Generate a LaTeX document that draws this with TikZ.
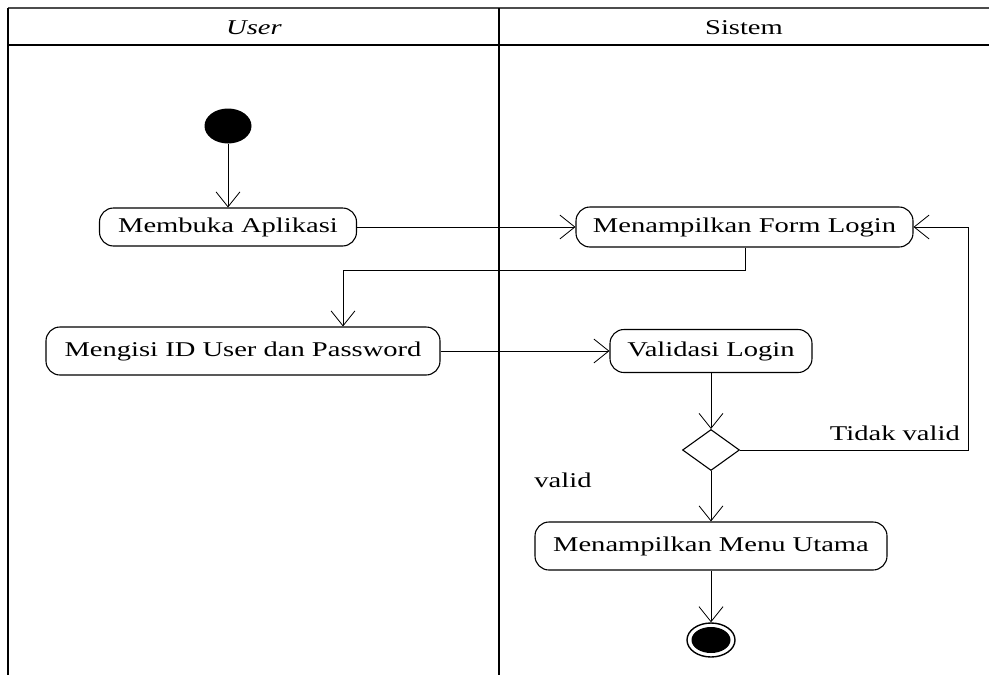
\documentclass[tikz,border=0pt]{standalone}
\usepackage{fontspec}
\setmainfont{Liberation Serif}[FakeStretch=1.36]
\usetikzlibrary{arrows.meta,shapes.geometric}
\begin{document}
\begin{tikzpicture}[x=1pt,y=-1pt,
  act/.style={draw,line width=1.1pt,rounded corners=14pt,inner sep=0pt,font=\fontsize{21}{23}\selectfont},
  flow/.style={line width=0.8pt,-{Straight Barb[length=15pt,width=24pt,line width=0.8pt]}},
  plain/.style={line width=0.8pt},
  lbl/.style={font=\fontsize{21}{23}\selectfont,inner sep=0pt}]
\useasboundingbox (0,0) rectangle (989,675);
% swimlane frame
\draw[line width=1.6pt,black!70] (8,8) -- (989,8);
\draw[line width=1.4pt] (8,45) -- (989,45);
\draw[line width=1.8pt] (8,8) -- (8,675);
\draw[line width=2.8pt] (499,8) -- (499,675);
\node[lbl] (hu) at (254,28) {\itshape User};
\node[lbl] (hs) at (744,28) {Sistem};
% nodes
\node[ellipse,fill=black,minimum width=47pt,minimum height=35pt,inner sep=0pt] (start) at (228,126) {};
\node[act,minimum width=257pt,minimum height=38pt] (buka) at (228,227) {Membuka Aplikasi};
\node[act,minimum width=337pt,minimum height=40pt] (form) at (744.5,227) {Menampilkan Form Login};
\node[act,minimum width=394pt,minimum height=48pt] (isi) at (243,351) {Mengisi ID User dan Password};
\node[act,minimum width=202pt,minimum height=43pt] (val) at (711,351) {Validasi Login};
\node[diamond,draw,line width=1.1pt,minimum width=57pt,minimum height=41pt,inner sep=0pt,aspect=1.4] (dec) at (711,450) {};
\node[act,minimum width=352pt,minimum height=48pt] (menu) at (711,546) {Menampilkan Menu Utama};
\node[ellipse,draw,line width=1.4pt,minimum width=48pt,minimum height=34pt,inner sep=0pt] (end) at (711,640) {};
\node[ellipse,fill=black,minimum width=39pt,minimum height=26pt,inner sep=0pt] (endin) at (711,640) {};
% labels
\node[lbl,anchor=base east] (tv) at (960,440) {Tidak valid};
\node[lbl] (vl) at (563,480) {valid};
% connectors
\coordinate (c1) at (745,270);
\coordinate (c2) at (343,270);
\coordinate (c3) at (968,450);
\coordinate (c4) at (968,227);
\draw[flow] (start.south) -- (buka.north);
\draw[flow] (buka.east) -- (form.west);
\draw[flow] (form.south -| c1) -- (c1) -- (c2) -- (c2 |- isi.north);
\draw[flow] (isi.east) -- (val.west);
\draw[flow] (val.south) -- (dec.north);
\draw[flow] (dec.east) -- (c3) -- (c4) -- (form.east);
\draw[flow] (dec.south) -- (menu.north);
\draw[flow] (menu.south) -- (end.north);
\end{tikzpicture}
\end{document}
